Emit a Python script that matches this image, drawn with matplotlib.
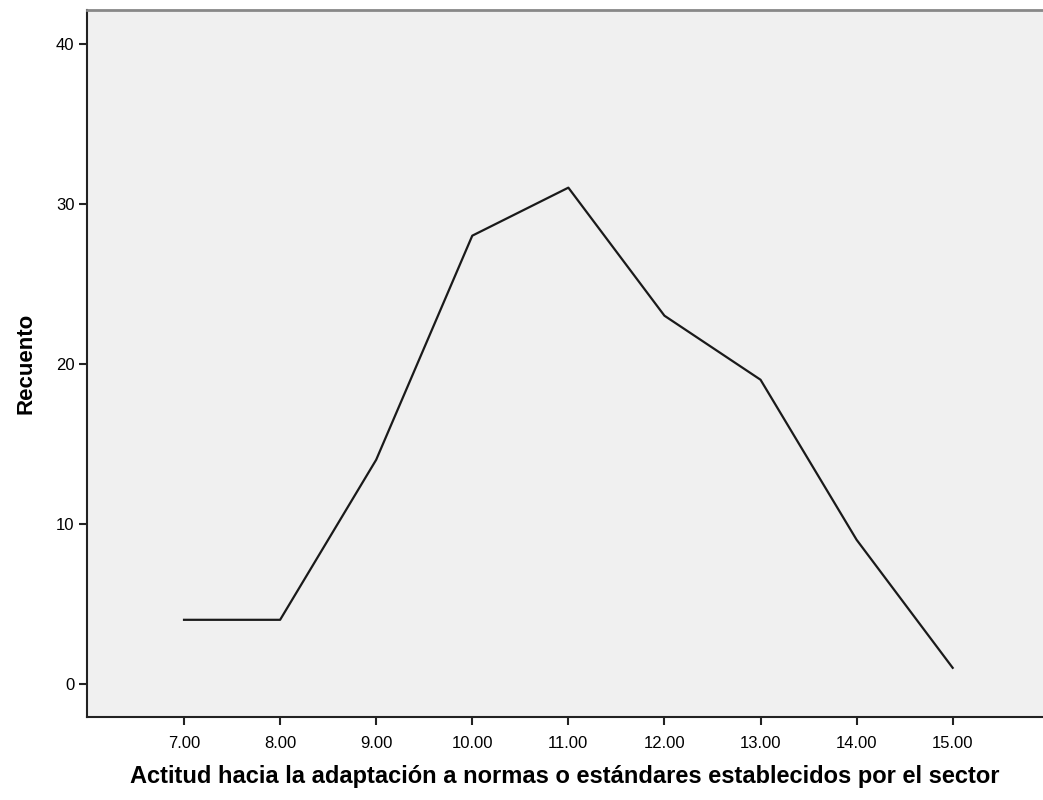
import matplotlib.pyplot as plt

# Frequency polygon data
puntajes = [7, 8, 9, 10, 11, 12, 13, 14, 15]
recuento = [4, 4, 14, 28, 31, 23, 19, 9, 1]
x_ticks = [7, 8, 9, 10, 11, 12, 13, 14, 15]
x_labels = ['7.00', '8.00', '9.00', '10.00', '11.00', '12.00', '13.00', '14.00', '15.00']
y_ticks = [0, 10, 20, 30, 40]

plt.rcParams['font.family'] = ['Liberation Sans', 'DejaVu Sans']

fig = plt.figure(figsize=(10.43, 8.0), dpi=100)
ax = fig.add_axes([0.0834, 0.104, 0.9166, 0.8835])
ax.set_facecolor('#f0f0f0')

ax.plot(puntajes, recuento, color='#1a1a1a', linewidth=1.6)

ax.set_xlim(5.99, 15.94)
ax.set_ylim(-2.06, 42.1)
ax.set_xticks(x_ticks)
ax.set_xticklabels(x_labels)
ax.set_yticks(y_ticks)

ax.tick_params(axis='both', length=6, width=1.5, color='#222222', labelsize=12)
ax.tick_params(axis='x', pad=8)
ax.tick_params(axis='y', pad=3)

for side in ['left', 'bottom']:
    ax.spines[side].set_color('#222222')
    ax.spines[side].set_linewidth(1.5)
ax.spines['top'].set_color('#888888')
ax.spines['top'].set_linewidth(2)
ax.spines['right'].set_visible(False)

ax.set_xlabel('Actitud hacia la adaptación a normas o estándares establecidos por el sector',
              fontsize=17, fontweight='bold', labelpad=10)
ax.set_ylabel('Recuento', fontsize=16, fontweight='bold', labelpad=14)

fig.savefig('out.png', dpi=100)
